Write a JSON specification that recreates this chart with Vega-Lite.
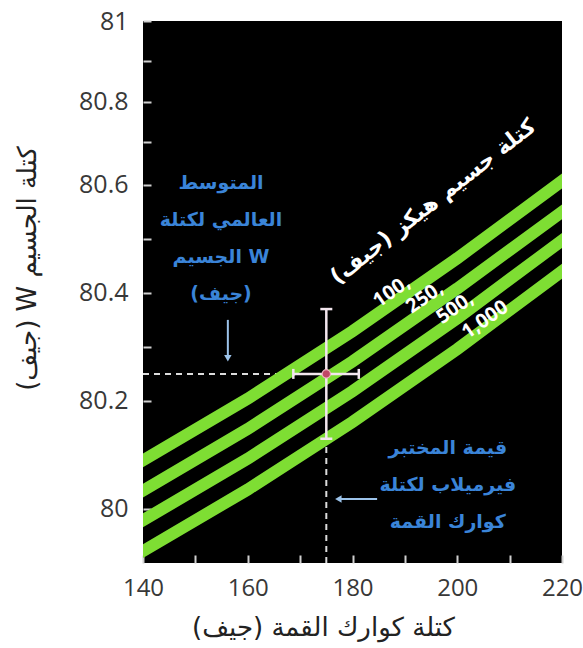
{
  "$schema": "https://vega.github.io/schema/vega-lite/v6.json",
  "width": 419,
  "height": 542,
  "autosize": "none",
  "padding": {"left": 143, "top": 21, "right": 21, "bottom": 85},
  "background": "white",
  "config": {
    "view": {"fill": "black", "stroke": null},
    "axis": {
      "domain": false, "grid": false,
      "labelFont": "Open Sans", "labelColor": "#383838",
      "tickColor": "#d0d0d0", "tickWidth": 2, "tickSize": 8, "offset": -8,
      "titleFont": "DejaVu Sans", "titleFontSize": 26, "titleColor": "#222222", "titleFontWeight": "normal",
      "titleAlign": "center", "titleBaseline": "middle",
      "labelOverlap": false, "labelFlush": false, "labelBound": false
    }
  },
  "datasets": {
    "bands": [
      {"higgs": "100", "mt": 140, "mw": 80.09},
      {"higgs": "100", "mt": 160, "mw": 80.204},
      {"higgs": "100", "mt": 180, "mw": 80.329},
      {"higgs": "100", "mt": 200, "mw": 80.464},
      {"higgs": "100", "mt": 220, "mw": 80.607},
      {"higgs": "250", "mt": 140, "mw": 80.034},
      {"higgs": "250", "mt": 160, "mw": 80.148},
      {"higgs": "250", "mt": 180, "mw": 80.273},
      {"higgs": "250", "mt": 200, "mw": 80.408},
      {"higgs": "250", "mt": 220, "mw": 80.55},
      {"higgs": "500", "mt": 140, "mw": 79.979},
      {"higgs": "500", "mt": 160, "mw": 80.093},
      {"higgs": "500", "mt": 180, "mw": 80.218},
      {"higgs": "500", "mt": 200, "mw": 80.353},
      {"higgs": "500", "mt": 220, "mw": 80.497},
      {"higgs": "1000", "mt": 140, "mw": 79.922},
      {"higgs": "1000", "mt": 160, "mw": 80.036},
      {"higgs": "1000", "mt": 180, "mw": 80.161},
      {"higgs": "1000", "mt": 200, "mw": 80.296},
      {"higgs": "1000", "mt": 220, "mw": 80.44}
    ],
    "guides": [
      {"mt": 140, "mt2": 168.7, "mw": 80.25, "mw2": 80.25},
      {"mt": 175, "mt2": 175, "mw": 79.9, "mw2": 80.13}
    ],
    "errbars": [
      {"mt": 168.7, "mt2": 181.2, "mw": 80.25, "mw2": 80.25},
      {"mt": 175, "mt2": 175, "mw": 80.13, "mw2": 80.37}
    ],
    "vcaps": [
      {"mt": 175, "mw": 80.37},
      {"mt": 175, "mw": 80.13}
    ],
    "hcaps": [
      {"mt": 168.7, "mw": 80.25},
      {"mt": 181.2, "mw": 80.25}
    ],
    "point": [{"mt": 175, "mw": 80.25}],
    "arrows": [
      {"mt": 156.2, "mt2": 156.2, "mw": 80.35, "mw2": 80.282},
      {"mt": 184.7, "mt2": 177.6, "mw": 80.0185, "mw2": 80.0185}
    ],
    "heads": [
      {"mt": 156.2, "mw": 80.279, "shape": "triangle-down"},
      {"mt": 177.3, "mw": 80.0185, "shape": "triangle-left"}
    ],
    "notes": [
      {"mt": 154.9, "mw": 80.604, "label": "المتوسط\nالعالمي لكتلة\nالجسيم W\n(جيف)"},
      {"mt": 198.2, "mw": 80.113, "label": "قيمة المختبر\nفيرميلاب لكتلة\nكوارك القمة"}
    ],
    "higgsTitle": [{"mt": 195.4, "mw": 80.569, "label": "كتلة جسيم هيكز (جيف)"}],
    "higgsLabels": [
      {"mt": 187.5, "mw": 80.402, "label": "100,"},
      {"mt": 193.8, "mw": 80.391, "label": "250,"},
      {"mt": 199.6, "mw": 80.372, "label": "500,"},
      {"mt": 205.3, "mw": 80.35, "label": "1,000"}
    ]
  },
  "layer": [
    {
      "data": {"name": "guides"},
      "mark": {"type": "rule", "color": "#dcdcdc", "strokeWidth": 2, "strokeDash": [6, 5]},
      "encoding": {
        "x": {"field": "mt", "type": "quantitative", "scale": {"domain": [140, 220], "nice": false, "zero": false},
          "axis": {"values": [140, 150, 160, 170, 180, 190, 200, 210, 220], "format": "~r", "labelFontSize": 24,
            "labelExpr": "datum.value % 20 == 0 ? datum.label : ''", "labelPadding": 13,
            "title": "كتلة كوارك القمة (جيف)", "titleX": 180, "titleY": 72}},
        "x2": {"field": "mt2"},
        "y": {"field": "mw", "type": "quantitative", "scale": {"domain": [79.9, 80.62, 81], "range": [542, 153, 0], "nice": false, "zero": false},
          "axis": {"values": [80, 80.1, 80.2, 80.3, 80.4, 80.5, 80.6, 80.7, 80.8, 80.9, 81], "format": "~r", "labelFontSize": 25,
            "labelExpr": "abs(datum.value * 5 - round(datum.value * 5)) < 0.001 ? datum.label : ''", "labelPadding": 15,
            "title": "\u202bكتلة الجسيم W (جيف)\u202c", "titleX": -124, "titleY": 247, "titleAngle": -90}},
        "y2": {"field": "mw2"}
      }
    },
    {
      "data": {"name": "bands"},
      "mark": {"type": "line", "strokeWidth": 12, "clip": true, "strokeCap": "square", "color": "#7ede33"},
      "encoding": {
        "x": {"field": "mt", "type": "quantitative"},
        "y": {"field": "mw", "type": "quantitative"},
        "detail": {"field": "higgs", "type": "nominal"}
      }
    },
    {
      "data": {"name": "errbars"},
      "mark": {"type": "rule", "color": "#f3e6ee", "strokeWidth": 2.5},
      "encoding": {
        "x": {"field": "mt", "type": "quantitative"},
        "x2": {"field": "mt2"},
        "y": {"field": "mw", "type": "quantitative"},
        "y2": {"field": "mw2"}
      }
    },
    {
      "data": {"name": "vcaps"},
      "mark": {"type": "tick", "orient": "horizontal", "size": 12, "thickness": 2.5, "color": "#f3e6ee", "opacity": 1},
      "encoding": {
        "x": {"field": "mt", "type": "quantitative"},
        "y": {"field": "mw", "type": "quantitative"}
      }
    },
    {
      "data": {"name": "hcaps"},
      "mark": {"type": "tick", "orient": "vertical", "size": 10, "thickness": 2.5, "color": "#f3e6ee", "opacity": 1},
      "encoding": {
        "x": {"field": "mt", "type": "quantitative"},
        "y": {"field": "mw", "type": "quantitative"}
      }
    },
    {
      "data": {"name": "point"},
      "mark": {"type": "point", "filled": true, "size": 70, "color": "#c04866", "stroke": "#efb3c2", "strokeWidth": 1.2, "opacity": 1},
      "encoding": {
        "x": {"field": "mt", "type": "quantitative"},
        "y": {"field": "mw", "type": "quantitative"}
      }
    },
    {
      "data": {"name": "arrows"},
      "mark": {"type": "rule", "color": "#9cc3ea", "strokeWidth": 2},
      "encoding": {
        "x": {"field": "mt", "type": "quantitative"},
        "x2": {"field": "mt2"},
        "y": {"field": "mw", "type": "quantitative"},
        "y2": {"field": "mw2"}
      }
    },
    {
      "data": {"name": "heads"},
      "mark": {"type": "point", "filled": true, "size": 55, "color": "#9cc3ea", "opacity": 1},
      "encoding": {
        "x": {"field": "mt", "type": "quantitative"},
        "y": {"field": "mw", "type": "quantitative"},
        "shape": {"field": "shape", "type": "nominal", "scale": null}
      }
    },
    {
      "data": {"name": "notes"},
      "mark": {"type": "text", "font": "DejaVu Sans", "fontSize": 19, "fontWeight": "bold", "color": "#3a84d8", "lineBreak": "\n", "lineHeight": 37, "align": "center", "baseline": "middle"},
      "encoding": {
        "x": {"field": "mt", "type": "quantitative"},
        "y": {"field": "mw", "type": "quantitative"},
        "text": {"field": "label", "type": "nominal"}
      }
    },
    {
      "data": {"name": "higgsTitle"},
      "mark": {"type": "text", "font": "DejaVu Sans", "fontSize": 22, "fontWeight": "bold", "color": "white", "angle": -38, "align": "center", "baseline": "middle"},
      "encoding": {
        "x": {"field": "mt", "type": "quantitative"},
        "y": {"field": "mw", "type": "quantitative"},
        "text": {"field": "label", "type": "nominal"}
      }
    },
    {
      "data": {"name": "higgsLabels"},
      "mark": {"type": "text", "font": "Open Sans", "fontSize": 20, "fontWeight": "bold", "color": "white", "angle": -35, "align": "center", "baseline": "middle"},
      "encoding": {
        "x": {"field": "mt", "type": "quantitative"},
        "y": {"field": "mw", "type": "quantitative"},
        "text": {"field": "label", "type": "nominal"}
      }
    }
  ]
}
